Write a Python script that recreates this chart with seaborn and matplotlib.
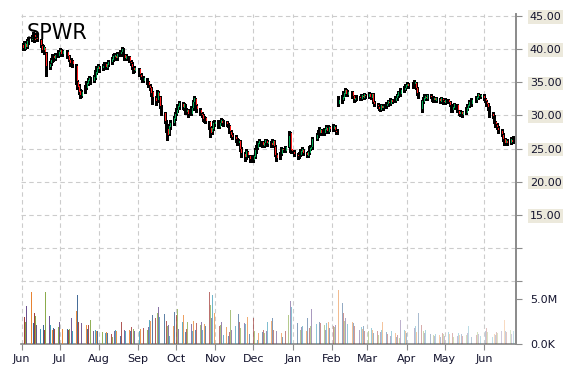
import numpy as np
import pandas as pd
import matplotlib
matplotlib.use("Agg")
import matplotlib.pyplot as plt
import matplotlib.dates as mdates
from matplotlib.colors import to_rgba
import seaborn as sns

# ── Data: SPWR daily OHLC + volume (Jun 2014 – Jun 2015) ──
holidays = ["2014-07-04", "2014-09-01", "2014-11-27", "2014-12-25", "2015-01-01",
            "2015-01-19", "2015-02-16", "2015-04-03", "2015-05-25"]
dates = pd.bdate_range("2014-06-02", "2015-06-24", freq="C", holidays=holidays)

opens = [
    40.6, 40.1, 40.8, 40.4, 41.1,  41.4, 41.9, 42.1, 41.5, 42.1,  41.4, 40.5, 39.8, 40.2, 39.4,
    37.3, 37.9, 38.3, 38.9, 38.5,  39.0, 39.5, 39.8, 39.2,  39.6, 38.9, 38.3, 37.8, 38.2,
    37.5, 35.0, 34.4, 33.7, 33.0,  33.6, 34.2, 34.8, 35.2, 35.5,  35.2, 35.7, 36.4, 37.0, 37.3,
    37.1, 37.4, 37.8, 37.2, 37.6,  38.0, 38.4, 38.8, 39.0, 38.6,  39.2, 39.5, 40.0, 39.1, 38.5,
    38.8, 38.1, 37.8, 37.2, 36.7,  37.0, 36.1, 35.7, 35.2,  35.5, 35.0, 34.5, 34.1, 33.5,
    32.7, 32.3, 33.4, 32.8, 31.3,  30.4, 29.0, 27.9, 27.2, 28.3,  28.8, 29.5, 30.2, 30.8, 31.3,
    31.8, 31.2, 31.6, 30.5, 30.8,  30.3, 31.1, 32.0, 32.5, 31.5,  30.9, 30.3, 30.0, 29.3, 29.6,
    29.0, 28.1, 27.5, 28.0, 28.7,  29.1, 28.3, 28.8, 29.2, 28.7,  29.0, 28.6, 28.4, 27.5, 27.0,
    26.7, 26.3, 25.8, 26.1, 24.9,  24.2, 23.7, 24.5, 23.9,  23.3, 23.8, 24.7, 25.1, 25.7,
    26.0, 25.4, 25.8, 26.2, 25.7,  25.9, 25.5, 26.1, 25.3, 24.0,  23.7, 24.2, 24.9, 24.7,
    25.3, 27.3, 24.9, 24.5,  24.1, 23.8, 24.1, 24.5, 24.8,  24.3, 23.9, 24.4, 25.0, 25.2,
    26.5, 27.0, 27.4, 27.8,  27.3, 27.8, 28.1, 27.5, 28.2,  27.9, 28.3, 27.7, 27.4, 31.8,
    32.3, 32.7, 33.3, 33.8, 33.1,  33.5, 32.9, 32.4, 32.6,  32.8, 32.5, 33.0, 32.7, 33.1,
    32.8, 33.2, 32.7, 33.3, 32.0,  31.6, 31.3, 30.9, 31.5, 31.1,  31.4, 31.7, 32.1, 31.8, 32.3,
    32.2, 32.6, 33.0, 33.4, 33.2,  33.8, 34.1, 34.5, 34.7,  34.4, 34.8, 34.9, 34.1, 33.3,
    31.0, 32.1, 32.5, 32.8, 32.5,  33.0, 32.7, 32.3, 32.6, 32.2,  32.5, 32.1, 32.5, 32.2, 31.9,
    32.3, 32.0, 31.5, 30.8, 31.2,  31.6, 30.7, 30.2, 30.5, 30.1,  30.4, 31.0, 31.5, 32.0, 31.7,
    32.3, 32.7, 33.1, 32.8,  33.0, 32.5, 32.1, 31.7, 31.2,  30.3, 29.8, 29.0, 28.6, 28.1,
    27.7, 27.1, 26.4, 25.8, 26.2,  25.9, 26.3, 26.0,
]
highs = [
    40.9, 41.2, 41.0, 41.5, 41.9,  42.1, 42.6, 42.3, 42.4, 42.3,  41.6, 40.8, 40.6, 40.4, 39.6,
    38.2, 38.7, 39.2, 39.1, 39.4,  39.9, 40.2, 40.0, 39.9,  39.8, 39.1, 38.6, 38.6, 38.4,
    37.7, 35.4, 34.7, 34.0, 33.9,  34.6, 35.2, 35.6, 35.9, 35.8,  36.1, 36.8, 37.4, 37.7, 37.5,
    37.8, 38.1, 38.0, 38.0, 38.4,  38.8, 39.2, 39.4, 39.2, 39.6,  39.9, 40.4, 40.2, 39.3, 39.2,
    39.0, 38.4, 38.0, 37.5, 37.4,  37.2, 36.4, 36.0, 35.9,  35.7, 35.2, 34.8, 34.3, 33.7,
    33.0, 33.8, 33.7, 33.0, 31.6,  30.6, 29.3, 28.2, 28.7, 29.3,  29.9, 30.6, 31.2, 31.7, 32.2,
    32.0, 31.9, 31.8, 31.1, 31.0,  31.5, 32.4, 32.9, 32.7, 31.8,  31.1, 30.6, 30.3, 29.9, 29.8,
    29.2, 28.3, 28.4, 29.1, 29.3,  29.3, 29.1, 29.6, 29.4, 29.3,  29.2, 28.9, 28.6, 27.8, 27.3,
    27.0, 26.6, 26.5, 26.3, 25.2,  24.5, 24.9, 24.7, 24.1,  24.1, 25.1, 25.5, 26.1, 26.4,
    26.2, 26.1, 26.5, 26.4, 26.3,  26.1, 26.5, 26.3, 25.5, 24.3,  24.5, 25.3, 25.1, 25.4,
    27.6, 27.5, 25.0, 24.8,  24.3, 24.5, 24.9, 25.2, 25.0,  24.5, 24.7, 25.4, 25.6, 26.7,
    27.4, 27.8, 28.2, 28.0,  28.1, 28.5, 28.3, 28.6, 28.4,  28.7, 28.5, 27.9, 27.9, 33.0,
    33.1, 33.7, 34.1, 34.0, 33.9,  33.7, 33.1, 32.9, 33.1,  33.0, 33.3, 33.2, 33.4, 33.3,
    33.5, 33.4, 33.4, 33.4, 32.2,  31.9, 31.5, 31.8, 31.7, 31.7,  32.0, 32.4, 32.3, 32.6, 32.5,
    32.9, 33.3, 33.7, 33.6, 34.1,  34.4, 34.8, 35.0, 34.9,  35.1, 35.3, 35.1, 34.3, 33.5,
    32.4, 32.8, 33.2, 33.0, 33.3,  33.2, 32.9, 32.9, 32.8, 32.8,  32.7, 32.8, 32.7, 32.4, 32.6,
    32.5, 32.2, 31.7, 31.5, 31.9,  31.8, 30.9, 30.8, 30.7, 30.7,  31.3, 31.8, 32.3, 32.2, 32.6,
    33.0, 33.4, 33.3, 33.3,  33.2, 32.7, 32.3, 31.9, 31.4,  30.5, 30.0, 29.2, 28.9, 28.4,
    27.9, 27.3, 26.6, 26.6, 26.4,  26.7, 26.5, 26.9,
]
lows = [
    39.8, 39.9, 40.0, 40.2, 40.8,  41.2, 41.6, 41.1, 41.2, 41.3,  40.3, 39.6, 39.6, 39.3, 36.0,
    37.0, 37.6, 38.1, 38.2, 38.3,  38.8, 39.3, 39.0, 39.0,  38.7, 38.2, 37.5, 37.6, 37.3,
    34.8, 34.0, 33.2, 32.6, 32.8,  33.4, 34.0, 34.6, 35.0, 34.8,  35.0, 35.5, 36.2, 36.8, 36.6,
    36.8, 37.2, 37.0, 37.0, 37.4,  37.8, 38.2, 38.6, 38.4, 38.4,  39.0, 39.3, 39.0, 38.3, 38.3,
    38.0, 37.6, 37.0, 36.4, 36.5,  35.9, 35.5, 35.0, 35.0,  34.8, 34.3, 33.9, 33.0, 31.8,
    31.6, 32.0, 32.6, 31.1, 30.0,  28.8, 27.5, 26.3, 27.0, 28.0,  28.5, 29.3, 30.0, 30.5, 31.0,
    31.0, 30.9, 30.3, 30.2, 29.8,  30.0, 30.9, 31.7, 31.3, 30.6,  30.1, 29.8, 29.1, 29.0, 28.8,
    27.9, 26.8, 27.2, 27.8, 28.4,  28.1, 28.1, 28.6, 28.5, 28.4,  28.4, 28.2, 27.3, 26.8, 26.4,
    26.0, 25.6, 25.6, 24.7, 23.8,  23.2, 23.4, 23.7, 23.0,  23.0, 23.6, 24.4, 24.9, 25.4,
    25.2, 25.2, 25.6, 25.5, 25.4,  25.3, 25.3, 25.2, 23.9, 23.2,  23.5, 24.0, 24.5, 24.5,
    25.2, 24.5, 24.3, 23.9,  23.5, 23.6, 23.9, 24.3, 24.1,  23.7, 23.7, 24.2, 24.8, 25.0,
    26.3, 26.8, 27.2, 27.1,  27.1, 27.6, 27.4, 27.4, 27.7,  27.7, 27.6, 27.2, 27.2, 31.5,
    31.9, 32.4, 33.0, 33.0, 32.9,  32.7, 32.1, 32.2, 32.4,  32.4, 32.3, 32.6, 32.5, 32.6,
    32.6, 32.6, 32.5, 31.9, 31.4,  31.1, 30.8, 30.7, 31.0, 30.9,  31.2, 31.5, 31.7, 31.6, 31.9,
    32.0, 32.4, 32.8, 33.0, 33.0,  33.6, 33.9, 34.3, 34.2,  34.2, 34.6, 34.0, 33.1, 32.6,
    30.5, 31.9, 32.3, 32.4, 32.3,  32.6, 32.2, 32.1, 32.1, 32.0,  31.9, 31.9, 32.1, 31.7, 31.7,
    31.9, 31.4, 30.6, 30.6, 31.0,  30.6, 30.0, 29.9, 29.9, 29.8,  30.2, 30.8, 31.3, 31.5, 31.5,
    32.1, 32.5, 32.6, 32.6,  32.3, 32.0, 31.5, 30.9, 29.8,  29.6, 28.8, 28.3, 27.9, 27.4,
    26.9, 26.2, 25.5, 25.6, 25.6,  25.7, 25.8, 25.8,
]
closes = [
    40.2, 40.9, 40.3, 41.2, 41.5,  41.8, 42.2, 41.4, 42.0, 41.6,  40.6, 39.9, 40.3, 39.6, 37.4,
    37.8, 38.4, 38.9, 38.6, 39.1,  39.6, 39.9, 39.3, 39.7,  39.0, 38.4, 37.9, 38.3, 37.7,
    35.2, 34.3, 33.6, 33.1, 33.5,  34.3, 34.9, 35.3, 35.6, 35.1,  35.8, 36.5, 37.1, 37.4, 37.0,
    37.5, 37.8, 37.3, 37.7, 38.1,  38.5, 38.9, 39.1, 38.7, 39.3,  39.6, 40.1, 39.2, 38.6, 38.9,
    38.2, 37.9, 37.3, 36.8, 37.1,  36.2, 35.8, 35.3, 35.6,  35.1, 34.6, 34.2, 33.4, 32.8,
    32.2, 33.5, 32.9, 31.4, 30.6,  29.1, 27.8, 27.1, 28.4, 28.9,  29.6, 30.3, 30.9, 31.4, 31.9,
    31.3, 31.7, 30.6, 30.9, 30.2,  31.2, 32.1, 32.6, 31.6, 31.0,  30.4, 30.1, 29.4, 29.7, 29.1,
    28.2, 27.4, 28.1, 28.8, 29.0,  28.4, 28.9, 29.3, 28.8, 29.1,  28.7, 28.5, 27.6, 27.1, 26.8,
    26.4, 25.9, 26.2, 25.0, 24.3,  23.8, 24.6, 24.0, 23.4,  23.9, 24.8, 25.2, 25.8, 26.1,
    25.5, 25.9, 26.3, 25.8, 26.0,  25.6, 26.2, 25.4, 24.1, 23.6,  24.3, 25.0, 24.8, 25.2,
    26.9, 24.8, 24.6, 24.2,  23.9, 24.2, 24.6, 24.9, 24.4,  24.0, 24.5, 25.1, 25.3, 26.4,
    27.1, 27.5, 27.9, 27.4,  27.9, 28.2, 27.6, 28.3, 28.0,  28.4, 27.8, 27.5, 27.6, 32.4,
    32.8, 33.4, 33.9, 33.2, 33.6,  33.0, 32.5, 32.7, 32.9,  32.6, 33.1, 32.8, 33.2, 32.9,
    33.3, 32.8, 33.2, 32.1, 31.7,  31.4, 31.0, 31.6, 31.2, 31.5,  31.8, 32.2, 31.9, 32.4, 32.1,
    32.7, 33.1, 33.5, 33.3, 33.9,  34.2, 34.6, 34.8, 34.5,  34.9, 35.0, 34.2, 33.4, 33.0,
    32.2, 32.6, 32.9, 32.6, 33.1,  32.8, 32.4, 32.7, 32.3, 32.6,  32.2, 32.6, 32.3, 32.0, 32.4,
    32.1, 31.6, 30.9, 31.3, 31.7,  30.8, 30.3, 30.6, 30.2, 30.5,  31.1, 31.6, 32.1, 31.8, 32.4,
    32.8, 33.2, 32.9, 33.1,  32.6, 32.2, 31.8, 31.3, 30.4,  29.9, 29.1, 28.7, 28.2, 27.8,
    27.2, 26.5, 25.9, 26.3, 25.8,  26.4, 26.0, 26.7,
]
# volume in millions of shares
volumes = [
    3.1, 3.0, 2.4, 4.2, 2.5,  5.8, 2.3, 3.4, 3.1, 2.1,  1.7, 2.4, 2.1, 1.6, 5.8,
    3.1, 2.1, 1.6, 1.8, 1.7,  1.9, 2.5, 1.6, 1.7,  1.7, 1.6, 1.7, 2.9, 1.5,
    3.7, 5.4, 2.5, 2.6, 2.3,  3.2, 2.1, 1.7, 2.1, 2.7,  1.4, 1.6, 1.5, 1.4, 1.5,
    1.3, 0.8, 1.2, 1.3, 1.2,  1.1, 0.8, 1.5, 1.6, 1.5,  0.9, 2.4, 1.5, 1.6, 1.4,
    1.6, 1.5, 1.9, 1.7, 1.5,  1.4, 1.7, 1.3, 1.8,  1.6, 1.9, 2.7, 2.6, 3.2,
    2.9, 3.4, 4.1, 3.0, 2.6,  3.3, 2.6, 2.0, 2.1, 0.9,  2.0, 3.6, 3.2, 3.9, 1.7,
    2.5, 3.2, 1.3, 1.7, 2.5,  2.2, 1.4, 2.6, 1.6, 2.3,  2.1, 2.4, 1.6, 2.2, 2.0,
    5.8, 4.3, 2.9, 5.5, 3.4,  2.3, 2.0, 2.1, 2.4, 1.0,  1.9, 0.9, 1.3, 3.8, 1.6,
    2.0, 3.4, 3.3, 2.5, 1.8,  2.3, 2.2, 3.0, 1.1,  2.9, 1.5, 2.6, 0.5, 1.2,
    1.3, 1.6, 1.2, 1.4, 2.4,  2.6, 2.9, 1.6, 2.0, 1.5,  1.7, 1.2, 0.8, 1.4,
    3.2, 4.8, 4.1, 3.0,  2.3, 2.2, 1.6, 1.9, 2.0,  1.4, 2.9, 1.8, 2.0, 3.9,
    2.2, 2.0, 2.4, 2.3,  2.1, 1.6, 2.3, 2.4, 1.8,  2.0, 1.9, 2.1, 3.2, 6.0,
    4.6, 3.5, 2.6, 2.9, 2.2,  2.5, 2.3, 2.0, 2.2,  1.6, 1.9, 1.7, 2.0, 1.5,
    1.5, 1.3, 1.8, 1.6, 1.2,  1.4, 1.0, 1.3, 1.6, 2.5,  1.3, 1.1, 1.2, 0.9, 1.4,
    1.2, 0.8, 1.0, 0.7, 2.7,  1.6, 1.4, 1.2, 1.1,  1.5, 1.8, 2.0, 1.3, 3.4,
    2.1, 1.4, 1.2, 1.6, 1.0,  1.1, 1.2, 1.0, 0.9, 1.1,  1.0, 0.8, 1.2, 1.1, 0.9,
    1.3, 1.1, 1.0, 1.2, 0.8,  0.9, 1.2, 1.0, 1.1, 0.9,  1.0, 1.2, 2.0, 1.1, 0.8,
    1.0, 1.3, 1.1, 0.9,  1.2, 1.5, 1.8, 1.3, 1.0,  0.8, 1.1, 1.0, 1.3, 1.2,
    1.5, 1.2, 2.7, 1.4, 1.3,  1.6, 1.1, 1.4,
]
ticker = "SPWR"
price_ticks = [5, 10, 15, 20, 25, 30, 35, 40, 45]
price_labels = ["", "", "15.00", "20.00", "25.00", "30.00", "35.00", "40.00", "45.00"]
vol_ticks = [0, 5]
vol_labels = ["0.0K", "5.0M"]
vol_palette = ["#35608f", "#a23b38", "#86a844", "#6a4f8f", "#3899b5", "#e8822f"]

assert len(dates) == len(opens) == len(highs) == len(lows) == len(closes) == len(volumes)

df = pd.DataFrame({"date": dates, "open": opens, "high": highs,
                   "low": lows, "close": closes, "volume": volumes})
df["x"] = mdates.date2num(df["date"])
df["up"] = df["close"] >= df["open"]

# ── Style ─────────────────────────────────────────────────────
sns.set_theme(style="white")
plt.rcParams["font.family"] = ["DejaVu Sans"]
grid_kw = dict(color="#cccccc", linestyle=(0, (4, 3)), linewidth=0.8)
text_col = "#14142e"

W, H = 570, 370
fig = plt.figure(figsize=(W / 100, H / 100), dpi=100)
ax = fig.add_axes([21 / W, (H - 344) / H, (516 - 21) / W, (344 - 14) / H])

# price scale: 45 at y=16px, 6.633 px per dollar, axes spans 14..344 px
ax.set_ylim(45 - 328 / 6.633, 45 + 2 / 6.633)
x0 = mdates.date2num(pd.Timestamp("2014-06-01"))
ax.set_xlim(x0 - 0.55, x0 + 390.3)

# ── Candles ───────────────────────────────────────────────────
ax.vlines(df["x"], df["low"], df["high"], color="black", linewidth=1.0,
          antialiased=False, zorder=3)
body_bottom = np.minimum(df["open"], df["close"])
body_height = np.maximum(np.abs(df["close"] - df["open"]), 0.12)
body_cols = np.where(df["up"], "#00a651", "#ff1a1a")
ax.bar(df["x"] + 0.75, body_height, bottom=body_bottom, width=0.7,
       color=body_cols, linewidth=0, antialiased=False, zorder=4)

# ── Volume on a twin axis ─────────────────────────────────────
ax2 = ax.twinx()
ax2.set_ylim(0, 330 / 9.0)
n = len(df)
alphas = np.linspace(1.0, 0.28, n)
vcols = [to_rgba(vol_palette[i % len(vol_palette)], alphas[i]) for i in range(n)]
ax2.bar(df["x"], df["volume"], width=0.7, color=vcols, linewidth=0,
        antialiased=False, zorder=2)

# ── Axes cosmetics ────────────────────────────────────────────
ax.xaxis.set_major_locator(mdates.MonthLocator())
ax.xaxis.set_major_formatter(mdates.DateFormatter("%b"))
ax.set_yticks(price_ticks)
ax.set_yticklabels(price_labels)
ax.yaxis.tick_right()
ax.grid(True, axis="both", **grid_kw)
ax.set_axisbelow(True)

ax2.set_yticks(vol_ticks)
ax2.set_yticklabels(vol_labels)
ax2.grid(False)

for a in (ax, ax2):
    for side in ("left", "top"):
        a.spines[side].set_visible(False)
    a.spines["right"].set_color("#8c8c8c")
    a.spines["bottom"].set_color("#8c8c8c")
    a.tick_params(axis="y", which="both", right=True, left=False, direction="out",
                  length=4, width=0.8, color="#8c8c8c", pad=6,
                  labelsize=8, labelcolor=text_col)
ax2.spines["bottom"].set_visible(False)
ax.tick_params(axis="x", bottom=True, direction="out", length=4, width=0.8,
               color="#8c8c8c", pad=3, labelsize=8, labelcolor=text_col)

for lbl in ax.get_yticklabels():
    if lbl.get_text():
        lbl.set_bbox(dict(facecolor="#ece9dc", edgecolor="none", pad=1.2))

fig.text(27 / W, 1 - 39 / H, ticker, fontsize=15, color="black", va="baseline")

fig.savefig("out.png", dpi=100)
